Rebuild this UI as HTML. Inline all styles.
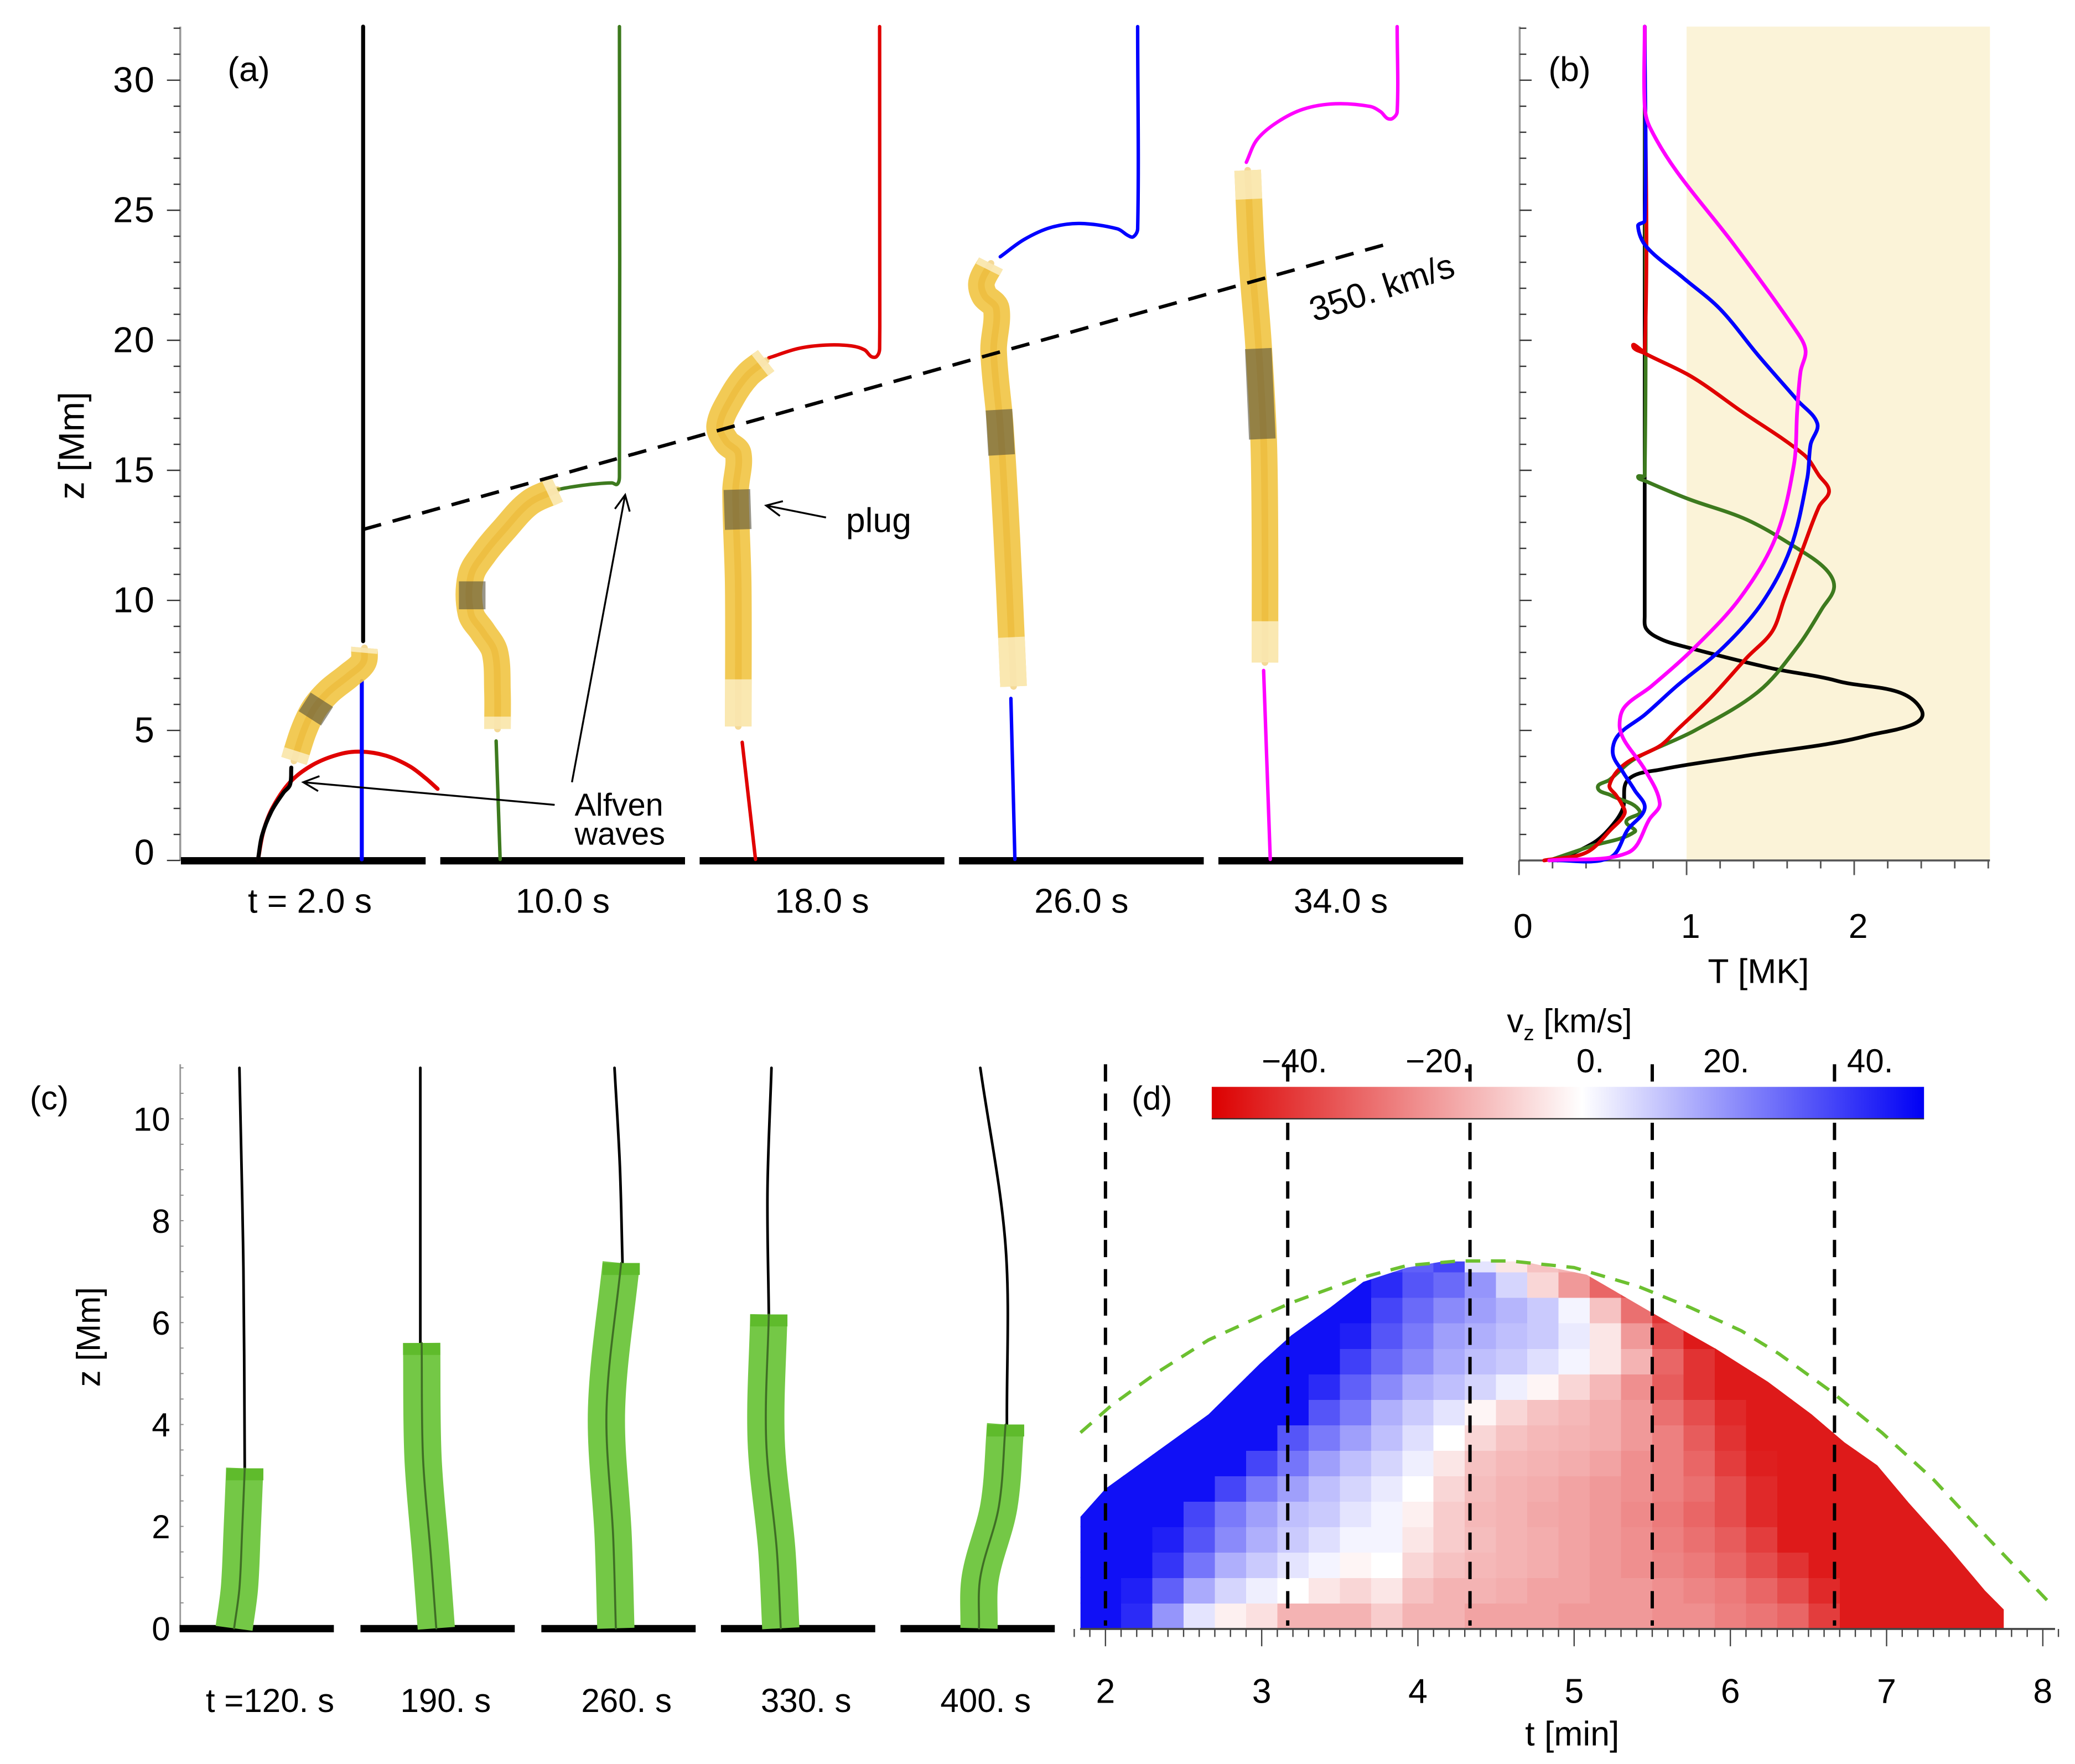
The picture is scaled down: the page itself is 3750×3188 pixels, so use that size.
<!DOCTYPE html>
<html><head><meta charset="utf-8">
<style>
html,body{margin:0;padding:0;background:#fff;}
svg{display:block;}
text{font-family:"Liberation Sans",sans-serif;fill:#000;}
</style></head>
<body>
<svg id="fig" xmlns="http://www.w3.org/2000/svg" width="3750" height="3188" viewBox="0 0 1560 1326" preserveAspectRatio="none">
<defs>
<linearGradient id="cbarGrad" x1="0" y1="0" x2="1" y2="0">
<stop offset="0" stop-color="rgb(220,0,0)"/>
<stop offset="0.52" stop-color="#ffffff"/>
<stop offset="1" stop-color="rgb(0,0,245)"/>
</linearGradient>
<clipPath id="envClip"><polygon id="envPoly" points=""/></clipPath>
</defs>
<g id="gA"></g>
<g id="gB"></g>
<g id="gC"></g>
<g id="gD"></g>
</svg>
<script>
// ---------- Panel (b) data: temperature profiles ----------
const bBlackT=[0.75,0.75,0.76,0.85,1.0,1.5,1.9,2.4,2.08,1.33,0.85,0.65,0.62,0.55,0.45,0.23];
const bBlackZ=[32.06,9.4,8.9,8.5,8.2,7.4,6.9,5.8,4.8,4.0,3.5,3.1,2.0,1.3,0.7,0];
const bGreenT=[0.75,0.75,0.71,0.75,1.01,1.36,1.66,1.83,1.88,1.81,1.66,1.43,1.05,0.69,0.54,0.47,0.55,0.72,0.64,0.69,0.42,0.18];
const bGreenZ=[32.06,14.8,14.75,14.6,13.9,13.1,12.0,11.2,10.5,9.7,8.2,6.5,5.0,3.9,3.1,2.8,2.5,1.9,1.5,1.1,0.53,0];
const bRedT=[0.75,0.75,0.68,0.75,1.03,1.32,1.70,1.79,1.85,1.79,1.70,1.58,1.51,1.36,1.15,0.94,0.84,0.63,0.54,0.58,0.61,0.63,0.55,0.40,0.15];
const bRedZ=[32.06,19.6,19.8,19.5,18.6,17.3,15.6,14.8,14.2,13.6,12.1,10.0,8.8,7.8,6.3,5.0,4.4,3.7,2.9,2.5,2.2,1.8,1.2,0.3,0];
const bBlueT=[0.75,0.75,0.71,0.76,0.98,1.20,1.43,1.66,1.78,1.74,1.72,1.62,1.45,1.22,0.94,0.75,0.59,0.56,0.62,0.69,0.75,0.65,0.54,0.20];
const bBlueZ=[32.06,24.6,24.4,23.6,22.4,21.2,19.4,17.7,16.8,16.0,14.7,12.0,9.9,8.2,6.7,5.6,4.8,4.1,3.4,2.7,2.0,1.2,0.1,0];
const bMagT=[0.75,0.75,0.78,0.94,1.28,1.66,1.71,1.68,1.66,1.64,1.53,1.32,1.05,0.79,0.63,0.60,0.63,0.75,0.84,0.78,0.65,0.18];
const bMagZ=[32.06,29.0,28.2,26.5,23.7,20.3,19.6,18.8,17.3,15.2,12.4,10.1,8.2,6.7,5.9,5.2,4.6,3.5,2.2,1.6,0.3,0];
const bTickLabels=["0","1","2"];
const aTickLabels=["0","5","10","15","20","25","30"];
const aTimeLabels=["t  =  2.0  s","10.0  s","18.0  s","26.0  s","34.0  s"];

// ---------- Panel (c) data ----------
const cTimeLabels=["t =120. s","190. s","260. s","330. s","400. s"];
const cTubeTop=[3.14,5.6,7.17,6.16,4.0];
const cYTicks=["0","2","4","6","8","10"];

// ---------- Panel (d) data ----------
const dTimes=[1.8,2.0,2.2,2.4,2.6,2.8,3.0,3.2,3.4,3.6,3.8,4.0,4.2,4.4,4.6,4.8,5.0,5.2,5.4,5.6,5.8,6.0,6.2,6.4,6.6,6.8,7.0,7.2,7.4,7.6,7.8];
const dHeights=[0.25,0.75,1.25,1.75,2.25,2.75,3.25,3.75,4.25,4.75,5.25,5.75,6.25,6.75,7.25];
const vz0=[45,45,40,20,5,-3,-6,-15,-15,-15,-10,-15,-15,-18,-18,-18,-20,-20,-20,-22,-22,-25,-27,-30,-38,-45,-45,-45,-45,-45,-45];
const vz1=[45,45,42,30,16,8,3,0,-5,-8,-5,-12,-15,-15,-16,-18,-18,-20,-20,-22,-24,-26,-30,-35,-42,-45,-45,-45,-45,-45,-45];
const vz2=[45,45,45,38,26,15,10,5,2,-2,0,-8,-12,-14,-15,-16,-18,-20,-22,-24,-26,-30,-35,-40,-45,-45,-45,-45,-45,-45,-45];
const vz3=[45,45,45,42,32,22,15,10,6,2,2,-5,-10,-13,-15,-16,-18,-20,-22,-25,-28,-32,-38,-45,-45,-45,-45,-45,-45,-45,-45];
const vz4=[45,45,45,45,35,25,18,12,10,5,2,-3,-10,-14,-15,-17,-18,-20,-23,-26,-30,-35,-42,-45,-45,-45,-45,-45,-45,-45,-45];
const vz5=[45,45,45,45,45,35,25,18,12,8,4,0,-8,-13,-15,-16,-18,-20,-22,-25,-28,-35,-42,-45,-45,-45,-45,-45,-45,-45,-45];
const vz6=[45,45,45,45,45,45,35,26,18,12,8,3,-5,-12,-14,-15,-16,-18,-22,-25,-30,-38,-44,-45,-45,-45,-45,-45,-45,-45,-45];
const vz7=[45,45,45,45,45,45,45,32,25,18,12,6,0,-8,-12,-14,-15,-16,-20,-25,-32,-40,-45,-45,-45,-45,-45,-45,-45,-45,-45];
const vz8=[45,45,45,45,45,45,45,45,32,25,15,10,5,-2,-8,-12,-14,-16,-20,-28,-35,-42,-45,-45,-45,-45,-45,-45,-45,-45,-45];
const vz9=[45,45,45,45,45,45,45,45,40,30,22,15,12,8,3,-2,-8,-14,-22,-32,-40,-45,-45,-45,-45,-45,-45,-45,-45,-45,-45];
const vz10=[45,45,45,45,45,45,45,45,45,36,28,22,16,12,10,6,2,-5,-15,-30,-40,-45,-45,-45,-45,-45,-45,-45,-45,-45,-45];
const vz11=[45,45,45,45,45,45,45,45,45,42,32,25,18,15,12,10,4,-5,-20,-35,-45,-45,-45,-45,-45,-45,-45,-45,-45,-45,-45];
const vz12=[45,45,45,45,45,45,45,45,45,45,35,28,22,18,14,10,2,-12,-28,-40,-40,-40,-40,-40,-40,-40,-40,-40,-40,-40,-40];
const vz13=[45,45,45,45,45,45,45,45,45,45,40,32,28,20,8,-8,-20,-30,-35,-35,-35,-35,-35,-35,-35,-35,-35,-35,-35,-35,-35];
const vz14=[45,45,45,45,45,45,45,45,45,45,35,30,35,5,-5,-12,-15,-15,-15,-15,-15,-15,-15,-15,-15,-15,-15,-15,-15,-15,-15];
const vzRows=[vz0,vz1,vz2,vz3,vz4,vz5,vz6,vz7,vz8,vz9,vz10,vz11,vz12,vz13,vz14];
const envT=[1.84,2.0,2.33,2.66,2.99,3.19,3.44,3.65,3.93,4.16,4.67,5.08,5.49,5.91,6.24,6.52,6.73,6.94,7.14,7.38,7.63,7.75,7.75];
const envZ=[2.19,2.74,3.47,4.2,5.2,5.75,6.3,6.8,7.08,7.2,7.2,6.94,6.21,5.48,4.84,4.2,3.65,3.2,2.47,1.65,0.74,0.37,0];
const fitT=[1.84,2.04,2.33,2.66,2.99,3.19,3.60,3.93,4.26,4.59,5.0,5.41,5.74,6.07,6.31,6.64,6.97,7.30,7.63,8.04];
const fitZ=[3.84,4.38,5.02,5.66,6.12,6.39,6.85,7.12,7.21,7.21,7.08,6.71,6.30,5.84,5.39,4.66,3.84,2.92,1.83,0.51];
const snapSeconds=[120,190,260,330,400];
const dXTicks=["2","3","4","5","6","7","8"];
const cbarTicks=[-40,-20,0,20,40];
const cbarLabels=["\u221240.","\u221220.","0.","20.","40."];

// ---------- scales ----------
const ya=z=>646.8-19.55*z;
const xb=T=>1142+126*T;
const yc=z=>1224-38.3*z;
const xd=t=>831.1+117.45*(t-2);
const xcb=v=>911+(v+51.5)*(535.5/99);

const NS='http://www.w3.org/2000/svg';
function el(tag,parent,attrs){const e=document.createElementNS(NS,tag);for(const k in attrs)e.setAttribute(k,attrs[k]);parent.appendChild(e);return e;}
function txt(parent,x,y,s,size,anchor,extra){const t=el('text',parent,Object.assign({x:x,y:y,'font-size':size,'text-anchor':anchor||'middle'},extra||{}));t.textContent=s;return t;}
function pts(arr){return arr.map(p=>p[0].toFixed(2)+','+p[1].toFixed(2)).join(' ');}
function smooth(arr){
  let d='M'+arr[0][0].toFixed(2)+','+arr[0][1].toFixed(2);
  function dir(a,b){const dx=b[0]-a[0],dy=b[1]-a[1],L=Math.hypot(dx,dy)||1;return [dx/L,dy/L];}
  for(let i=0;i<arr.length-1;i++){
    const p0=arr[Math.max(0,i-1)],p1=arr[i],p2=arr[i+1],p3=arr[Math.min(arr.length-1,i+2)];
    const seg=Math.hypot(p2[0]-p1[0],p2[1]-p1[1])/3;
    const t1=dir(p0,p2),t2=dir(p1,p3);
    const c1=[p1[0]+t1[0]*seg,p1[1]+t1[1]*seg];
    const c2=[p2[0]-t2[0]*seg,p2[1]-t2[1]*seg];
    d+=' C'+c1[0].toFixed(2)+','+c1[1].toFixed(2)+' '+c2[0].toFixed(2)+','+c2[1].toFixed(2)+' '+p2[0].toFixed(2)+','+p2[1].toFixed(2);
  }
  return d;
}

const gA=document.getElementById('gA'),gB=document.getElementById('gB'),gC=document.getElementById('gC'),gD=document.getElementById('gD');

function line(parent,arr,color,w,name){
  const p=el('path',parent,{d:smooth(arr),fill:'none',stroke:color,"stroke-width":w,"stroke-linejoin":'round',"stroke-linecap":'round'});
  
  
  return p;
}

// ===== Panel A =====
let ax=el('line',gA,{x1:135.5,y1:20,x2:135.5,y2:647,stroke:'#999',"stroke-width":1.5});


for(let z=0;z<=32;z++){
  const L=(z%5===0)?10:5;
  const tk=el('line',gA,{x1:135.5-L,y1:ya(z),x2:135.5,y2:ya(z),stroke:'#333',"stroke-width":1});
  
  
}
aTickLabels.forEach((s,i)=>{
  const z=i*5;
  const t=txt(gA,117,ya(z)+9+(z===0?-6:0),s,27,'end',{'letter-spacing':'1'});
  
  
});
let ytA=txt(gA,0,0,'z  [Mm]',27,'middle',{transform:'translate(63,335) rotate(-90)','xml:space':'preserve'});


let la=txt(gA,187,61,'(a)',26,'middle');



const aBarStart=[136,331,526,721,916];
aBarStart.forEach((x0,i)=>{
  const b=el('rect',gA,{x:x0,y:644.3,width:184,height:5.5,fill:'#000'});
  
  
  const t=txt(gA,x0+92+(i===0?5:0),686,aTimeLabels[i],26,'middle',{'xml:space':'preserve'});
  
  
});

function tube(parent,arr,name,bands){
  const g=el('g',parent,{});
  
  
  const body=line(g,arr,'#f1c443',20,'tube-body');
  body.setAttribute('stroke-opacity','0.9');
  body.setAttribute('stroke-linecap','butt');
  const core=line(g,arr,'#e9b430',5,'tube-core');
  core.setAttribute('stroke-opacity','0.5');
  (bands||[]).forEach(b=>{
    const l=line(g,b,'#55503a',20,'tube-dark-band');
    l.setAttribute('stroke-opacity','0.6');
    l.setAttribute('stroke-linecap','butt');
  });
  const n=arr.length;
  const f1=line(g,[arr[0],[(arr[0][0]*2+arr[1][0])/3,(arr[0][1]*2+arr[1][1])/3]],'#fbefc8',20,'tube-end-fade');
  f1.setAttribute('stroke-linecap','butt');
  f1.setAttribute('stroke-opacity','0.8');
  const f2=line(g,[[(arr[n-1][0]*2+arr[n-2][0])/3,(arr[n-1][1]*2+arr[n-2][1])/3],arr[n-1]],'#fbefc8',20,'tube-end-fade');
  f2.setAttribute('stroke-linecap','butt');
  f2.setAttribute('stroke-opacity','0.8');
  return g;
}
line(gA,[[273,20],[273,482]],'#000',3,'a-field-line-t2');
line(gA,[[194,646],[198,625],[205,607],[218,588],[235,575],[255,567],[271,565],[290,568],[308,576],[320,585],[329,593]],'#e00000',3,'a-alfven-arc-red');
line(gA,[[194,646],[197,628],[204,610],[213,596],[218,590],[219,577]],'#000',3,'a-alfven-arc-black');
line(gA,[[272,512],[272,646]],'#0000ff',3,'a-field-line-t2-lower');
tube(gA,[[274,487],[273,498],[262,508],[247,520],[236,533],[228,550],[221,572]],'a-plasma-tube-t2',[[[242,526],[233,540]]]);
line(gA,[[465.7,20],[465.7,358],[464,364],[460,363],[445,364],[430,366],[419,368]],'#3d7a1e',2.6,'a-field-line-t10');
line(gA,[[373,557],[376,646]],'#3d7a1e',2.6,'a-field-line-t10-lower');
tube(gA,[[419,368],[398,378],[379,398],[364,416],[354,433],[354,461],[363,475],[372,490],[374,520],[374,548]],'a-plasma-tube-t10',[[[355,437],[355,458]]]);
line(gA,[[661.3,20],[661.3,262],[659,268],[655,268],[650,263],[640,260],[621,259.4],[600,262],[578,269]],'#e00000',2.6,'a-field-line-t18');
line(gA,[[558,558],[568,646]],'#e00000',2.6,'a-field-line-t18-lower');
tube(gA,[[576,271],[562,282],[550,299],[541,320],[546,332],[555,341],[553,369],[555,440],[555,546]],'a-plasma-tube-t18',[[[554,368],[555,398]]]);
line(gA,[[855.3,20],[855.3,172],[852,178],[848,177],[840,172],[812,168],[790,171],[770,180],[752,193]],'#0000ff',2.6,'a-field-line-t26');
line(gA,[[760,525],[763,646]],'#0000ff',2.6,'a-field-line-t26-lower');
tube(gA,[[745,198],[738,212],[740,222],[749,232],[747,264],[752,320],[757,405],[762,516]],'a-plasma-tube-t26',[[[751,308],[753,342]]]);
line(gA,[[1050.4,20],[1050.4,84],[1047,89],[1043,89],[1038,84],[1030,80],[1004,78],[980,82],[960,92],[945,105],[937,122]],'#ff00ff',2.6,'a-field-line-t34');
line(gA,[[950,504],[955,646]],'#ff00ff',2.6,'a-field-line-t34-lower');
tube(gA,[[938,128],[941,193],[946,257],[950,330],[951,405],[951,498]],'a-plasma-tube-t34',[[[946,262],[949,330]]]);
let dl=el('line',gA,{x1:273,y1:398,x2:1048,y2:182,stroke:'#000',"stroke-width":2.6,"stroke-dasharray":'14 9'});


let sp=txt(gA,0,0,'350. km/s',26,'start',{transform:'translate(988,242) rotate(-18)'});


function arrow(parent,x1,y1,x2,y2,name){
  const g=el('g',parent,{});
  
  
  el('line',g,{x1:x1,y1:y1,x2:x2,y2:y2,stroke:'#000',"stroke-width":1.4});
  const a=Math.atan2(y2-y1,x2-x1),L=13,s=0.45;
  el('polyline',g,{points:pts([[x2-L*Math.cos(a-s),y2-L*Math.sin(a-s)],[x2,y2],[x2-L*Math.cos(a+s),y2-L*Math.sin(a+s)]]),fill:'none',stroke:'#000',"stroke-width":1.4});
}
arrow(gA,621,389,576,380,'a-plug-arrow');
let pl=txt(gA,636,400,'plug',26,'start');


arrow(gA,417,605,228,588,'a-alfven-arrow-1');
arrow(gA,430,588,470,372,'a-alfven-arrow-2');
let aw1=txt(gA,432,613,'Alfven',24,'start');


let aw2=txt(gA,432,635,'waves',24,'start');



// ===== Panel B =====
let sh=el('rect',gB,{x:xb(1),y:20,width:xb(2.81)-xb(1),height:ya(0)-20,fill:'#fbf3d8'});


let bax=el('line',gB,{x1:1142.5,y1:20,x2:1142.5,y2:647,stroke:'#999',"stroke-width":1.5});


for(let z=0;z<=32;z++){
  const L=(z%5===0)?9:5;
  const tk=el('line',gB,{x1:1142.5,y1:ya(z),x2:1142.5+L,y2:ya(z),stroke:'#333',"stroke-width":1});
  
  
}
let bxa=el('line',gB,{x1:1142,y1:ya(0),x2:xb(2.81),y2:ya(0),stroke:'#555',"stroke-width":1.5});


for(let i=0;i<=14;i++){
  const T=i*0.2,L=(i%5===0)?11:6;
  const tk=el('line',gB,{x1:xb(T),y1:ya(0),x2:xb(T),y2:ya(0)+L,stroke:'#555',"stroke-width":1.2});
  
  
}
bTickLabels.forEach((s,i)=>{
  const t=txt(gB,xb(i)+3,705,s,26,'middle');
  
  
});
let bxt=txt(gB,1322,739,'T  [MK]',26,'middle',{'xml:space':'preserve'});


let lb=txt(gB,1180,61,'(b)',26,'middle');


const bSeries=[[bBlackT,bBlackZ,'#000000','b-profile-t2'],[bGreenT,bGreenZ,'#3d7a1e','b-profile-t10'],[bRedT,bRedZ,'#e00000','b-profile-t18'],[bBlueT,bBlueZ,'#0000ff','b-profile-t26'],[bMagT,bMagZ,'#ff00ff','b-profile-t34']];
bSeries.forEach(s=>{
  const p=s[0].map((T,i)=>[xb(T),ya(s[1][i])]);
  line(gB,p,s[2],2.8,s[3]);
});

// ===== Panel C =====
let cax=el('line',gC,{x1:135.5,y1:800,x2:135.5,y2:1224,stroke:'#999',"stroke-width":1.2});


for(let i=0;i<=22;i++){
  const z=i*0.5;
  const tk=el('line',gC,{x1:135.5,y1:yc(z),x2:138,y2:yc(z),stroke:'#888',"stroke-width":0.8});
  
  
}
cYTicks.forEach((s,i)=>{
  const t=txt(gC,128,yc(i*2)+9,s,25,'end');
  
  
});
let ytC=txt(gC,0,0,'z  [Mm]',25,'middle',{transform:'translate(75,1005) rotate(-90)','xml:space':'preserve'});


let lc=txt(gC,37,834,'(c)',25,'middle');


const cBarStart=[135,271,407,542,677];
const cLineX=[[180,183,184],[316,316,316],[462,466,468],[580,577,578],[737,756,757]];
const cTubeX=[[184,182,180,176],[317,318,324,328],[467,456,461,463],[578,576,584,587],[756,751,737,736]];
cBarStart.forEach((x0,i)=>{
  const b=el('rect',gC,{x:x0,y:1221.5,width:116,height:5.5,fill:'#000'});
  
  
  const top=cTubeTop[i];
  const lx=cLineX[i];
  line(gC,[[lx[0],yc(11)],[lx[1],yc((11+top)/2)],[lx[2],yc(top)]],'#000',2,'c-field-line');
  const tx=cTubeX[i];
  const tp=[[tx[0],yc(top)],[tx[1],yc(top*0.6)],[tx[2],yc(top*0.25)],[tx[3],yc(0)]];
  const g=el('g',gC,{});
  
  
  const body=line(g,tp,'#74c846',28,'c-tube-body');
  body.setAttribute('stroke-linecap','butt');
  const cap=el('rect',g,{x:tx[0]-14,y:yc(top),width:28,height:9,fill:'#5fbb2c'});
  
  
  line(g,tp,'#3f6e25',1.5,'c-tube-core');
  const t=txt(gC,x0+58+(i===0?10:6),1287,cTimeLabels[i],25,'middle',{'xml:space':'preserve'});
  
  
});

// ===== Panel D =====
function vzColor(v){
  if(v<0){const t=Math.min(1,-v/50);return 'rgb('+Math.round(255-37*t)+','+Math.round(255-255*t)+','+Math.round(255-255*t)+')';}
  const t=Math.min(1,v/48);return 'rgb('+Math.round(255-255*t)+','+Math.round(255-255*t)+','+Math.round(255-10*t)+')';
}
const envPts=envT.map((t,i)=>[xd(t),yc(envZ[i])]);
envPts.push([xd(envT[0]),yc(0)]);
document.getElementById('envPoly').setAttribute('points',pts(envPts));
const hm=el('g',gD,{'clip-path':'url(#envClip)','shape-rendering':'crispEdges'});


vzRows.forEach((row,r)=>{
  const z=dHeights[r];
  row.forEach((v,c)=>{
    const t=dTimes[c];
    const x0=xd(t-0.1),x1=xd(t+0.1),y0=yc(z+0.25),y1=yc(z-0.25);
    const cell=el('rect',hm,{x:x0,y:y0,width:x1-x0+0.6,height:y1-y0+0.6,fill:vzColor(v)});
    
    
  });
});
let fit=el('polyline',gD,{points:pts(fitT.map((t,i)=>[xd(t),yc(fitZ[i])])),fill:'none',stroke:'#6cc030',"stroke-width":2.5,"stroke-dasharray":'11 8'});


snapSeconds.forEach(s=>{
  const x=xd(s/60);
  const l=el('line',gD,{x1:x,y1:800,x2:x,y2:1222,stroke:'#000',"stroke-width":2.5,"stroke-dasharray":'13 9'});
  
  
});
let cb=el('rect',gD,{x:911,y:817,width:535.5,height:24,fill:'url(#cbarGrad)'});


let cbl=el('line',gD,{x1:911,y1:841,x2:1446.5,y2:841,stroke:'#333',"stroke-width":1});


cbarTicks.forEach((v,i)=>{
  const t=txt(gD,xcb(v)+(v===0?6:0),806,cbarLabels[i],25,'middle');
  
  
});
let cbt=el('text',gD,{x:1180,y:776,'font-size':25,'text-anchor':'middle'});
cbt.innerHTML='v<tspan font-size="16" dy="6">z</tspan><tspan dy="-6"> [km/s]</tspan>';


let ld=txt(gD,866,834,'(d)',25,'middle');


let dxa=el('line',gD,{x1:812,y1:1224.5,x2:1545,y2:1224.5,stroke:'#444',"stroke-width":1.5});


for(let i=18;i<=81;i++){
  const t=i/10,L=(i%10===0)?13:6;
  const tk=el('line',gD,{x1:xd(t),y1:1224.5,x2:xd(t),y2:1224.5+L,stroke:'#444',"stroke-width":1});
  
  
}
dXTicks.forEach((s,i)=>{
  const t=txt(gD,xd(2+i),1280,s,26,'middle');
  
  
});
let dxt=txt(gD,1182,1312,'t  [min]',26,'middle',{'xml:space':'preserve'});


</script>
</body></html>
